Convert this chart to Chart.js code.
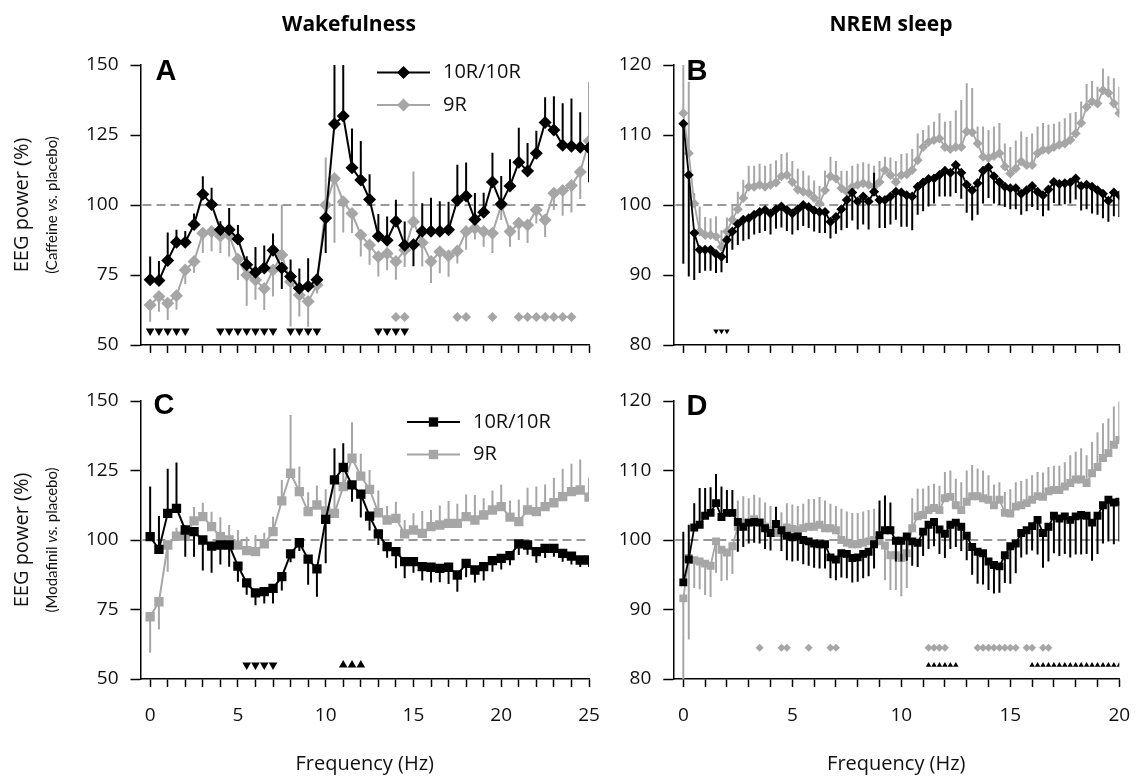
<!DOCTYPE html>
<html>
<head>
<meta charset="utf-8">
<script src="https://cdn.jsdelivr.net/npm/chart.js@4.4.0/dist/chart.umd.min.js"></script>
<style>
  body { margin: 0; background: #fff; }
  #wrap { position: relative; width: 1136px; height: 778px; }
  canvas { position: absolute; }
</style>
</head>
<body>
<div id="wrap">
  <canvas id="cA" width="600" height="385" style="left:0;top:0;width:600px;height:385px"></canvas>
  <canvas id="cB" width="536" height="385" style="left:600px;top:0;width:536px;height:385px"></canvas>
  <canvas id="cC" width="600" height="393" style="left:0;top:385px;width:600px;height:393px"></canvas>
  <canvas id="cD" width="536" height="393" style="left:600px;top:385px;width:536px;height:393px"></canvas>
</div>
<script>
// Frecuencias (Hz)
const frecA = [0,0.5,1,1.5,2,2.5,3,3.5,4,4.5,5,5.5,6,6.5,7,7.5,8,8.5,9,9.5,10,10.5,11,11.5,12,12.5,13,13.5,14,14.5,15,15.5,16,16.5,17,17.5,18,18.5,19,19.5,20,20.5,21,21.5,22,22.5,23,23.5,24,24.5,25];
const frecB = [0,0.25,0.5,0.75,1,1.25,1.5,1.75,2,2.25,2.5,2.75,3,3.25,3.5,3.75,4,4.25,4.5,4.75,5,5.25,5.5,5.75,6,6.25,6.5,6.75,7,7.25,7.5,7.75,8,8.25,8.5,8.75,9,9.25,9.5,9.75,10,10.25,10.5,10.75,11,11.25,11.5,11.75,12,12.25,12.5,12.75,13,13.25,13.5,13.75,14,14.25,14.5,14.75,15,15.25,15.5,15.75,16,16.25,16.5,16.75,17,17.25,17.5,17.75,18,18.25,18.5,18.75,19,19.25,19.5,19.75,20];

// A: vigilia, cafeina
const wakeCaf10R = [73.3,73,80.2,86.7,86.7,93,103.8,100.2,91.2,91.2,87.9,78.7,76,77.5,83.8,77.5,74.5,70.3,71,73.3,95.4,
  128.9,131.8,113.3,108.9,102,88.8,87.4,94.2,85.6,85.8,90.6,90.6,90.6,91.2,101.7,103.2,94.8,97.4,108.2,100.4,106.8,115.3,112.1,118.5,129.5,126.8,121.3,121,120.6,120.4];
const wakeCaf10RErr = [8.3,7,10,4.5,4,4,6.5,6,3,7.7,5,3,9,8,6,-7.5,6,7,10,2,-12.5,
  22,20,14,14,9,8,8.5,7.7,8.5,-7.7,10,12,10.7,10,12.7,12,9.5,7,10.5,10,9.5,12.3,10,8,9,12,15,17,12.5,-12.3];
const wakeCaf9R = [64.3,67.3,64.9,67.6,76.8,79.8,89.9,90.5,88.9,89.3,80.6,75,73.2,70.2,76.8,82.1,72.6,67.9,65.5,71.4,100,
  109.5,101.2,97,89.3,85.7,81.5,82.7,79.8,83.9,94,86.5,79.8,83.3,81.9,83.6,90.5,91.7,90.5,89.9,100,90.5,93.5,92.9,98.2,94.6,104.2,105.2,107,111.8,122.9];
const wakeCaf9RErr = [-6,-5.4,-6,-5,-5,-4,-7,-7,-6,-7.7,-7.4,-11,-7,-7.7,-9.5,18,-16,-7.7,-9,-3,17,
  -23,-11,-7,-7.7,-7,-7,-6,-6.5,-6,18,-8.5,-7.7,-7.7,-7.5,-4.5,-6.5,-4,-5.4,-7,-5.4,-5.4,-6,-6.5,-4.8,-6,-6,-9,-9.7,-9.7,21];
const sigA10R = [0,0.5,1,1.5,2,4,4.5,5,5.5,6,6.5,7,8,8.5,9,9.5,13,13.5,14,14.5];
const sigA9R = [14,14.5,17.5,18,19.5,21,21.5,22,22.5,23,23.5,24];

// B: NREM, cafeina
const nremCaf10R = [111.6,104.3,96,93.6,93.6,93.6,93,92.6,95,
  96.2,97.3,97.9,98.1,98.6,99,99.3,98.8,99.4,99.8,99.3,
  98.8,99.4,100,99.7,99.2,99,99,97.6,98.3,99.4,100.7,
  101.8,100.5,101.2,100.5,101.9,100.7,100.7,101.2,101.9,
  101.8,101.4,101.2,102.6,103.2,103.7,103.8,104.3,104.9,104.6,105.7,
  104.6,102.9,102.1,103.1,104.9,105.4,104.1,103.3,102.6,102.4,
  102.4,101.6,102.1,102.7,101.9,101.4,102.2,103.3,103,103.1,
  103.2,103.8,102.7,102.9,102.6,102.1,101.6,100.6,101.8,101.4];
const nremCaf10RErr = [-20,-14.5,-6.7,-3.3,-3,-3,-2.7,-2.2,-3.3,
  -2.6,-3,-3,-3,-2.8,-3,-3,-3,-2.8,-3,-3,
  -3,-3,-3,-3,-3,-3,-3,-2.4,-2.4,-3,-4,
  -4,-4,-4,-4,2.7,-4,-4,-4,-4,
  -4.9,-4.5,-4.8,-4,-4.1,-3.9,-3.6,-3.1,-3.7,-3.4,-4,
  -3.7,-4,-4.3,-4.5,-4.7,-4.4,-3.9,-3.3,-2.9,-3,
  -3,-3,-3,-3,-2.6,-3,-3,-3,-3,-3,
  -3,-3,-3.5,-3.5,-3.8,-3.5,-3.5,-3,-3.4,-3.1];
const nremCaf9R = [113.1,107.4,100.2,96.2,95.7,95.7,95.5,94,96.2,
  97.9,99.4,101,102.6,102.6,102.9,102.6,102.9,103.2,104.1,104.3,
  103.3,102.2,101.9,101.7,101,100.2,102.1,104.1,103.8,102.4,101.9,
  102.6,102.9,103.1,102.9,102.6,103.3,105,104.3,103.3,
  104.3,104.4,105,106.4,108.3,109,109.3,109.5,108.3,108,108.3,
  108.3,110.5,110.4,108.8,106.9,106.7,107,107.4,105.5,104.5,
  105.2,106.2,105.7,105.7,107.4,107.9,107.9,108.3,108.6,108.8,
  109.3,110.2,111.7,114,114.8,114.5,116.4,116,114.5,113.1];
const nremCaf9RErr = [6.9,10.2,1.5,3.6,2.6,2.4,2.9,2.4,2,
  2,2.5,2.6,3,3,3,3,3,3.2,3.2,3.2,
  3,3,3,2.5,2.5,2.5,2.8,2.8,2.5,2.5,3,
  3,3,3,3,3,3,1.9,2.5,3,
  3,3,3,3.8,2.4,2.4,2.6,3.6,3.6,4,5.2,
  6.7,6.9,6.3,2.4,4.3,4,4.2,4.3,3.3,3.8,
  4,4.3,4,4.5,3.8,3.8,3.6,3.3,3.3,3.6,
  3.8,3.1,3.1,3.3,2.9,2.4,3.1,2.4,3.6,3.8];
const sigB10R = [1.5,1.75,2];

// C: vigilia, modafinilo
const wakeMod10R = [101.2,96.6,109.6,111.4,103.6,103,100,97.8,98.2,98.2,90.6,84.6,81,81.4,82.6,86.8,95,99,93.1,89.6,107.4,
  121.6,126.1,119.8,116.5,108.6,102.2,97.6,95.8,92.2,92.2,90.4,90.2,89.8,90.2,87.4,91.6,89.2,90.4,92.6,93.4,94.4,98.6,98.2,95.8,97,97,95.2,94.2,92.8,92.8];
const wakeMod10RErr = [18,12,16,16.5,-9.6,-9,-11,-9.6,-7,-7.8,-5.6,-4.3,-4.5,-4.2,-5.4,-5,-3,-3,-9.2,-10,-15.8,
  11.4,8.7,-6,-8.4,-5.2,-4,-4,-6,-6,-4,-5,-5.5,-5,-6,-6,-5,-4.5,-5,-4,-4,-3.5,-4,-3.5,-4,-3.5,-3,-3,-3,-2.5,-2.5];
const wakeMod9R = [72.4,77.8,98.2,101.4,101.4,106.9,108.4,104.8,101.2,100,98.2,96.2,95.8,98.6,103,114.1,124,117.4,110.2,112.6,110.5,
  109.6,119.2,129.4,123,118.2,109.8,107.2,107.8,102.2,103.6,102.4,104.8,105.4,106,106,108.4,107.2,109,110.8,112,108.2,106.6,110.8,110.2,112,113.4,115.6,117.4,118,115.4];
const wakeMod9RErr = [-13,-10,-9.6,3,4,5,5,5.4,7,5.4,5.4,5,6,4,5.4,7.5,21,9,7,7,7.8,
  11,9,13,8,7,8,5,6,5,6,8,6,7,8,7,8,9,6,7,8,6,8,8,9,8,9,10,10,11,7];
const sigC10Rbaja = [5.5,6,6.5,7];
const sigC10Rsube = [11,11.5,12];

// D: NREM, modafinilo
const nremMod10R = [93.9,97.2,101.8,102.2,103.5,103.9,105.3,103.3,103.9,
  103.9,102.6,101.9,102.5,102.6,102.5,101.7,101,102.3,101.4,100.6,
  100.4,100.5,100,99.8,99.5,99.4,99.4,97.5,97.2,98.1,98,
  97.4,97.5,98,98.3,99.4,100.7,101.4,101.4,99.9,
  99.9,100.5,99.8,99.6,101.2,102.2,102.6,101.5,100.9,102.2,102.5,
  101.9,100.6,99,98.3,98.1,96.9,96.4,96.2,97.8,99.1,
  99.5,101,101.4,102,102.9,101,101.9,103.5,103.1,103.4,
  102.9,103.4,103.6,103.5,102.5,103.5,105,105.8,105.4,105.5];
const nremMod10RErr = [7.3,5,3.5,5.3,4,3.7,4.2,4.4,3.3,
  3.3,-4.3,-2.9,-3,-3,-3,-3,-2.5,2.5,-3,-3.5,
  -3.5,-3.5,-3.5,-3.5,-3.5,-3.5,-3.5,-3,-3,-3.5,-3.5,
  -3.5,-3.5,-3.5,-3.5,-3.5,5,5,4,-3,
  -3,-3.5,-3.5,-3.5,-3.5,-3.5,-3.5,-3.5,-3.5,-3.5,-3.5,
  -3.5,-3.5,-4,-4.6,-4.5,-4.1,-4.1,-3.8,-4,-5.4,
  -4.3,-3.5,-3.5,-3.5,-5,-5,-5,-5.4,-5.4,-5.4,
  -5.4,-5.5,-5.7,-5.5,-5.5,-5.5,-5.5,-6,-6,-5.7];
const nremMod9R = [91.6,97.4,97.1,96.9,96.6,96.3,99.8,98.6,98.2,
  99.1,101.9,102.5,102.5,103,102.6,101.9,101.4,101,101,101.8,
  101.6,101.4,101.7,101.9,101.9,102.2,101.7,101.7,101.4,100,99.6,
  99.4,99.4,99.6,99.8,100,99.8,99.2,97.8,97.8,
  97.4,98.1,101.7,103.4,103.6,104.3,104.6,104.3,106,106.2,105,
  104.3,105.5,106.3,106.3,106,105.8,105,105.8,103.9,103.8,
  104.8,105,105.3,105.8,106.3,106.2,107,107.2,107.2,107.7,
  108.2,108.7,108.7,108.2,109.6,110.5,111.8,112.5,113.7,114.4];
const nremMod9RErr = [-11.7,-11.7,-4,-4,-4.5,-4.5,-4.5,-4.5,-4,
  -4,3.8,3.8,3.5,3.5,3.5,3.5,3.5,3,3,3.5,
  3.5,3.5,3.5,4,4,4,4,3.5,3.5,4.5,4.5,
  4.5,4.5,4.5,4.5,4.5,4.5,-5,-5,-5,
  -5.5,-5,4.3,4,3.8,3.5,3.5,3.5,3.8,3.8,3.8,
  4,4.5,4.5,4,4,3.5,3,2.5,3,3.5,
  3.5,3.5,3.5,3.5,3.5,3.5,3.5,3.5,3.5,3.5,
  4,4,4.5,4,4.5,5,5,5,5.5,5.5];
const sigD9R = [3.5,4.5,4.75,5.75,6.75,7,11.25,11.5,11.75,12,13.5,13.75,14,14.25,14.5,14.75,15,15.25,15.75,16,16.5,16.75];
const sigD10R = [11.25,11.5,11.75,12,12.25,12.5,16,16.25,16.5,16.75,17,17.25,17.5,17.75,18,18.25,18.5,18.75,19,19.25,19.5,19.75,20];

const NEGRO = '#000000';
const GRIS = '#a6a6a6';
const FUENTE = '"Open Sans", Lato, sans-serif';
const FUENTE2 = 'Lato, "Open Sans", sans-serif';

Chart.defaults.font.family = FUENTE;
Chart.defaults.color = '#111';

function serie(label, xs, ys, errs, color, estilo, radio, orden, grosor) {
  return {
    label: label,
    data: xs.map((x, i) => ({ x: x, y: ys[i] })),
    errors: errs,
    leyenda: true,
    borderColor: color,
    backgroundColor: color,
    borderWidth: grosor,
    pointStyle: estilo,
    pointRadius: radio,
    pointBackgroundColor: color,
    pointBorderWidth: 0,
    tension: 0,
    order: orden
  };
}

// marcas de significancia (triangulos / rombos al fondo)
function marcas(xs, nivel, color, estilo, radio, giro) {
  return {
    label: 'sig',
    data: xs.map(x => ({ x: x, y: nivel })),
    showLine: false,
    pointStyle: estilo,
    pointRadius: radio,
    pointRotation: giro,
    pointBackgroundColor: color,
    pointBorderWidth: 0,
    order: 0
  };
}

const lineaRef = {
  id: 'lineaRef',
  beforeDatasetsDraw(chart) {
    const ctx = chart.ctx, a = chart.chartArea;
    const y = chart.scales.y.getPixelForValue(100);
    ctx.save();
    ctx.strokeStyle = '#333';
    ctx.lineWidth = 1;
    ctx.setLineDash([9, 5]);
    ctx.beginPath();
    ctx.moveTo(a.left + 2, y);
    ctx.lineTo(a.right, y);
    ctx.stroke();
    ctx.restore();
  }
};

const barrasError = {
  id: 'barrasError',
  beforeDatasetDraw(chart, args) {
    const ds = chart.data.datasets[args.index];
    if (!ds.errors) return;
    const ctx = chart.ctx, a = chart.chartArea, ys = chart.scales.y;
    ctx.save();
    ctx.beginPath();
    ctx.rect(a.left, a.top, a.right - a.left, a.bottom - a.top);
    ctx.clip();
    ctx.strokeStyle = ds.borderColor;
    ctx.lineWidth = ds.errWidth || 2;
    ctx.beginPath();
    args.meta.data.forEach((pt, i) => {
      ctx.moveTo(pt.x, pt.y);
      ctx.lineTo(pt.x, ys.getPixelForValue(ds.data[i].y + ds.errors[i]));
    });
    ctx.stroke();
    ctx.restore();
  }
};

function marcador(ctx, estilo, r, x, y, color) {
  ctx.fillStyle = color;
  ctx.beginPath();
  if (estilo === 'rectRot') {
    ctx.moveTo(x, y - r); ctx.lineTo(x + r, y); ctx.lineTo(x, y + r); ctx.lineTo(x - r, y);
  } else {
    const s = r * Math.SQRT1_2;
    ctx.rect(x - s, y - s, 2 * s, 2 * s);
  }
  ctx.closePath();
  ctx.fill();
}

function decoracion(d) {
  return {
    id: 'decor',
    afterDraw(chart) {
      const ctx = chart.ctx, a = chart.chartArea;
      ctx.save();
      ctx.fillStyle = '#000';
      ctx.textAlign = 'center';
      ctx.textBaseline = 'middle';
      ctx.font = 'bold 29px "Liberation Sans", Arial, sans-serif';
      ctx.fillText(d.letra, d.letraX, d.letraY);
      if (d.titulo) {
        ctx.font = 'bold 21px ' + FUENTE;
        ctx.fillText(d.titulo, d.tituloX, 25);
      }
      if (d.ySub) {
        ctx.save();
        ctx.translate(22, (a.top + a.bottom) / 2);
        ctx.rotate(-Math.PI / 2);
        ctx.font = '20px ' + FUENTE;
        ctx.fillStyle = '#111';
        ctx.fillText('EEG power (%)', 0, 0);
        // segunda linea con "vs." en cursiva
        const partes = [['(' + d.ySub + ' ', ''], ['vs.', 'italic '], [' placebo)', '']];
        let total = 0;
        partes.forEach(p => { ctx.font = p[1] + '15px ' + FUENTE2; total += ctx.measureText(p[0]).width; });
        let x0 = -total / 2;
        ctx.textAlign = 'left';
        partes.forEach(p => {
          ctx.font = p[1] + '15px ' + FUENTE2;
          ctx.fillText(p[0], x0, 30);
          x0 += ctx.measureText(p[0]).width;
        });
        ctx.restore();
      }
      if (d.leyenda) {
        const lx = d.leyenda[0];
        let ly = d.leyenda[1];
        chart.data.datasets.filter(ds => ds.leyenda).forEach(ds => {
          ctx.strokeStyle = ds.borderColor;
          ctx.lineWidth = 2;
          ctx.beginPath();
          ctx.moveTo(lx, ly);
          ctx.lineTo(lx + 53, ly);
          ctx.stroke();
          marcador(ctx, ds.pointStyle, ds.pointRadius, lx + 26.5, ly, ds.borderColor);
          ctx.fillStyle = '#111';
          ctx.textAlign = 'left';
          ctx.font = '20px ' + FUENTE;
          ctx.fillText(ds.label, lx + 66, ly);
          ly += 32.5;
        });
      }
      ctx.restore();
    }
  };
}

function panel(id, cfg) {
  return new Chart(document.getElementById(id), {
    type: 'line',
    data: { datasets: cfg.datasets },
    options: {
      responsive: false,
      animation: false,
      events: [],
      layout: { padding: cfg.pad },
      plugins: { legend: { display: false }, tooltip: { enabled: false } },
      scales: {
        x: {
          type: 'linear',
          min: cfg.xMin,
          max: cfg.xMax,
          grid: { drawOnChartArea: false, tickLength: 8, tickColor: '#000', tickWidth: 1.5 },
          border: { color: '#000', width: 1.5 },
          ticks: {
            stepSize: 1, autoSkip: false, includeBounds: false, maxRotation: 0, minRotation: 0,
            padding: 17, color: '#111', font: { size: 19 },
            callback: function (v) { return (cfg.numeros && v % 5 === 0) ? v : ''; }
          },
          title: {
            display: cfg.numeros, text: 'Frequency (Hz)', color: '#111',
            font: { size: 20 }, padding: { top: 0, bottom: 2 }
          },
          afterFit: function (s) { s.height = cfg.xAlto; s.paddingLeft = 0; s.paddingRight = 0; }
        },
        y: {
          min: cfg.yMin,
          max: cfg.yMax,
          grid: { drawOnChartArea: false, tickLength: 10, tickColor: '#000', tickWidth: 1.5 },
          border: { color: '#000', width: 1.5 },
          ticks: { stepSize: cfg.yPaso, padding: 12, color: '#111', font: { size: 19 } },
          afterFit: function (s) { s.width = cfg.yAncho; s.paddingTop = 0; s.paddingBottom = 0; }
        }
      }
    },
    plugins: [lineaRef, barrasError, decoracion(cfg.decor)]
  });
}

// A
panel('cA', {
  datasets: [
    serie('10R/10R', frecA, wakeCaf10R, wakeCaf10RErr, NEGRO, 'rectRot', 6.5, 1, 2),
    serie('9R', frecA, wakeCaf9R, wakeCaf9RErr, GRIS, 'rectRot', 6.5, 2, 2),
    marcas(sigA10R, 55, NEGRO, 'triangle', 5, 180),
    marcas(sigA9R, 60, GRIS, 'rectRot', 5, 0)
  ],
  pad: { left: 0, top: 65, right: 11, bottom: 0 },
  xMin: -0.55, xMax: 25, yMin: 50, yMax: 150, yPaso: 25,
  xAlto: 40, yAncho: 140.5, numeros: false,
  decor: { letra: 'A', letraX: 166, letraY: 72, titulo: 'Wakefulness', tituloX: 349, ySub: 'Caffeine', leyenda: [377, 72.5] }
});

// B
panel('cB', {
  datasets: [
    serie('10R/10R', frecB, nremCaf10R, nremCaf10RErr, NEGRO, 'rectRot', 5, 1, 1.8),
    serie('9R', frecB, nremCaf9R, nremCaf9RErr, GRIS, 'rectRot', 5, 2, 1.8),
    marcas(sigB10R, 82, NEGRO, 'triangle', 3.2, 180)
  ],
  pad: { left: 0, top: 65, right: 16.7, bottom: 0 },
  xMin: -0.46, xMax: 20, yMin: 80, yMax: 120, yPaso: 10,
  xAlto: 40, yAncho: 73.3, numeros: false,
  decor: { letra: 'B', letraX: 97, letraY: 72, titulo: 'NREM sleep', tituloX: 291 }
});

// C
panel('cC', {
  datasets: [
    serie('10R/10R', frecA, wakeMod10R, wakeMod10RErr, NEGRO, 'rect', 6.6, 1, 2),
    serie('9R', frecA, wakeMod9R, wakeMod9RErr, GRIS, 'rect', 6.6, 2, 2),
    marcas(sigC10Rbaja, 55, NEGRO, 'triangle', 5, 180),
    marcas(sigC10Rsube, 55, NEGRO, 'triangle', 5, 0)
  ],
  pad: { left: 0, top: 16, right: 11, bottom: 0 },
  xMin: -0.55, xMax: 25, yMin: 50, yMax: 150, yPaso: 25,
  xAlto: 99, yAncho: 140.5, numeros: true,
  decor: { letra: 'C', letraX: 164, letraY: 21, ySub: 'Modafinil', leyenda: [407, 37] }
});

// D
panel('cD', {
  datasets: [
    serie('10R/10R', frecB, nremMod10R, nremMod10RErr, NEGRO, 'rect', 5.6, 1, 1.8),
    serie('9R', frecB, nremMod9R, nremMod9RErr, GRIS, 'rect', 5.6, 2, 1.8),
    marcas(sigD9R, 84.5, GRIS, 'rectRot', 4, 0),
    marcas(sigD10R, 82, NEGRO, 'triangle', 3.2, 0)
  ],
  pad: { left: 0, top: 16, right: 16.7, bottom: 0 },
  xMin: -0.46, xMax: 20, yMin: 80, yMax: 120, yPaso: 10,
  xAlto: 99, yAncho: 73.3, numeros: true,
  decor: { letra: 'D', letraX: 97, letraY: 22 }
});
</script>
</body>
</html>
